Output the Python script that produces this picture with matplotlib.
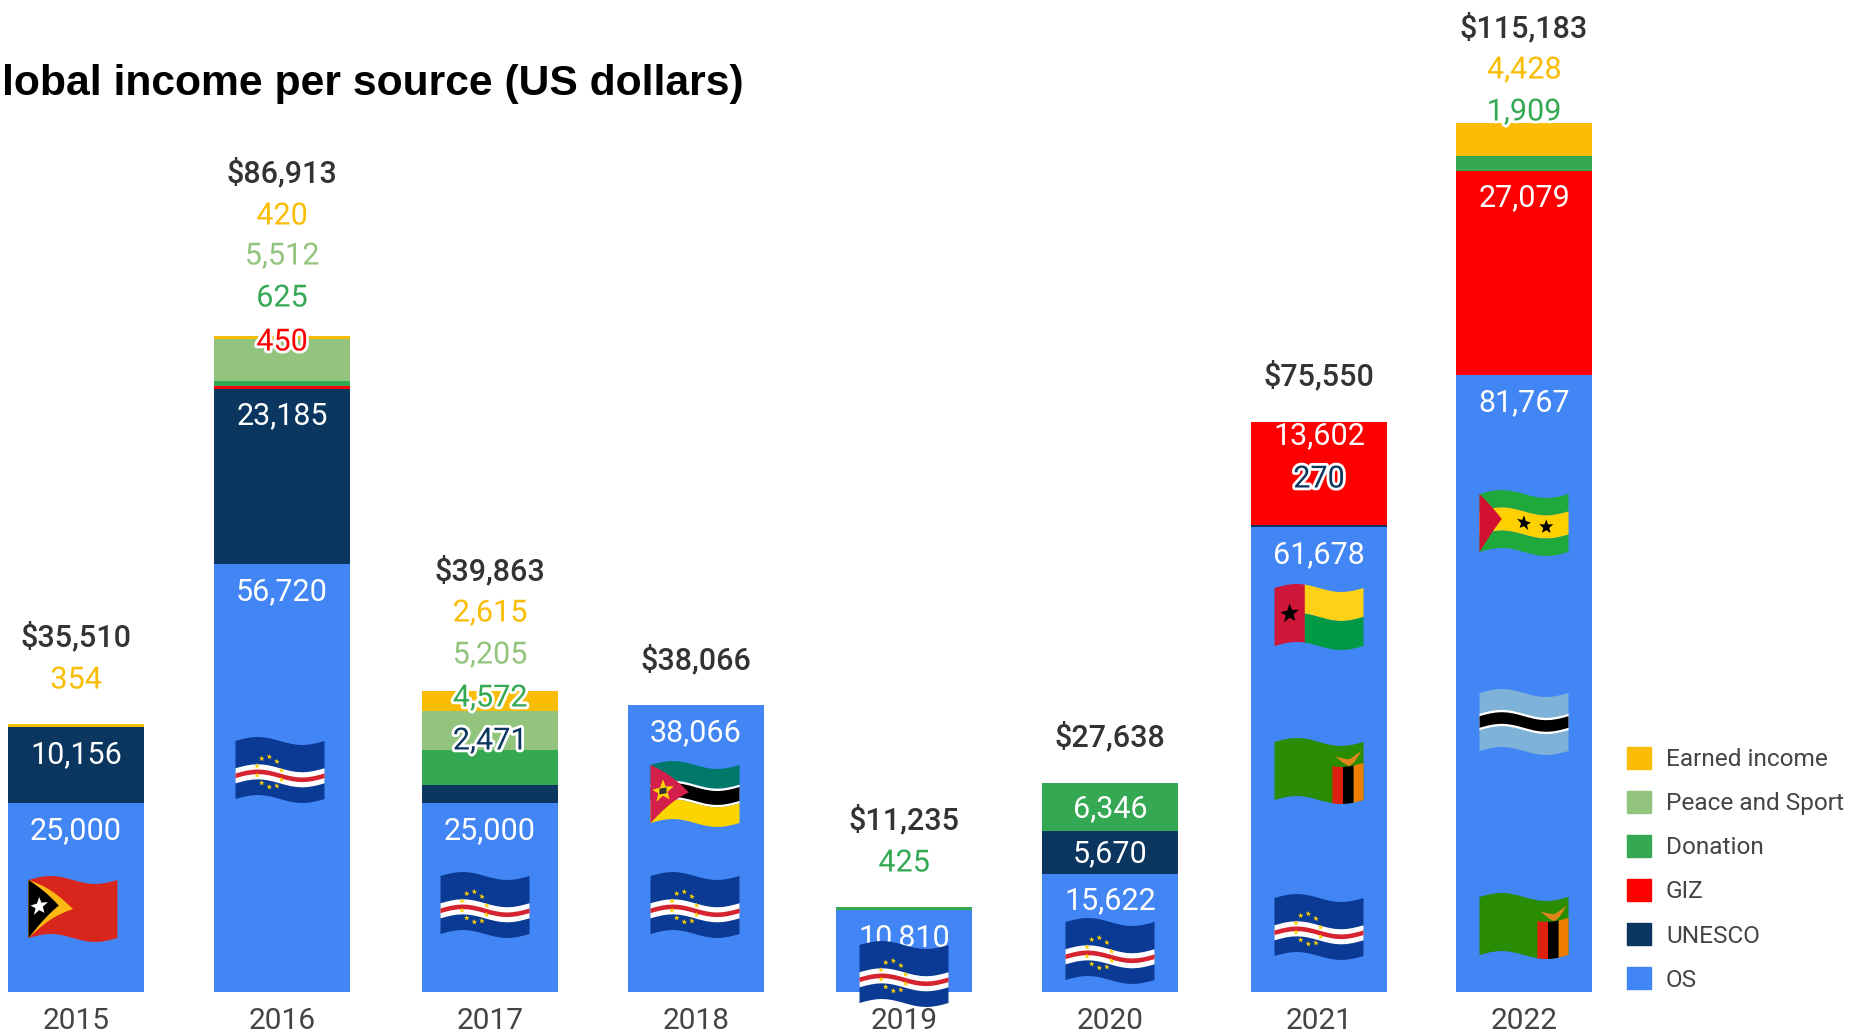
import numpy as np
import matplotlib
matplotlib.use('Agg')
import matplotlib.pyplot as plt
import matplotlib.patheffects as pe
from matplotlib.patches import Patch, Polygon
from matplotlib.transforms import blended_transform_factory

years = ['2015', '2016', '2017', '2018', '2019', '2020', '2021', '2022']
totals = [35510, 86913, 39863, 38066, 11235, 27638, 75550, 115183]

os_income = [25000, 56720, 25000, 38066, 10810, 15622, 61678, 81767]
unesco = [10156, 23185, 2471, 0, 0, 5670, 270, 0]
giz = [0, 450, 0, 0, 0, 0, 13602, 27079]
donation = [0, 625, 4572, 0, 425, 6346, 0, 1909]
peace = [0, 5512, 5205, 0, 0, 0, 0, 0]
earned = [354, 420, 2615, 0, 0, 0, 0, 4428]

series_names = ['OS', 'UNESCO', 'GIZ', 'Donation', 'Peace and Sport', 'Earned income']
series_values = [os_income, unesco, giz, donation, peace, earned]
series_colors = ['#4285F4', '#0A3660', '#FF0000', '#34A853', '#93C47D', '#FBBC04']

# label heights in image pixels, one row per series, same order as above
label_rows = [
    [828, 589, 828, 730, 935, 898, 552, 400],
    [752, 413, 738, 0, 0, 851, 476, 0],
    [0, 339, 0, 0, 0, 0, 433, 195],
    [0, 295, 695, 0, 860, 806, 0, 109],
    [0, 253, 652, 0, 0, 0, 0, 0],
    [677, 213, 610, 0, 0, 0, 0, 67],
]
total_rows = [634, 170, 568, 657, 817, 734, 373, 25]

# flags: (flag name, centre x, centre y in image pixels)
flags = [
    ('timor', 73, 909), ('cabo', 280, 770), ('cabo', 485, 905), ('mozambique', 695, 794),
    ('cabo', 695, 905), ('cabo', 904, 974), ('cabo', 1110, 951), ('bissau', 1319, 617),
    ('zambia', 1319, 771), ('cabo', 1319, 927), ('saotome', 1524, 523), ('botswana', 1524, 722),
    ('zambia', 1524, 926),
]

W, H = 1852, 1035
BASE = 992
PX_PER_USD = 0.007545
X0, STEP = 76, 206.9
bar_px = np.array([76, 282, 490, 696, 904, 1110, 1319, 1524])

plt.rcParams['font.family'] = ['Roboto', 'DejaVu Sans']

fig = plt.figure(figsize=(W / 100, H / 100), dpi=100)
ax = fig.add_axes([0, (H - BASE) / H, 1, BASE / H])
ax.set_xlim(-X0 / STEP, (W - X0) / STEP)
ax.set_ylim(0, BASE / PX_PER_USD)
for s in ax.spines.values():
    s.set_visible(False)
x = (bar_px - X0) / STEP
ax.set_yticks([])
ax.set_xticks(x)
ax.set_xticklabels(years, fontsize=21.5, color='#444444')
ax.tick_params(axis='x', length=0, pad=10.5)

bottom = np.zeros(len(years))
bottoms = []
for vals, col, name in zip(series_values, series_colors, series_names):
    ax.bar(x, vals, 0.657, bottom=bottom, color=col, label=name, linewidth=0)
    bottoms.append(bottom.copy())
    bottom = bottom + np.array(vals)

handles = [Patch(color=c) for c in series_colors[::-1]]
leg = ax.legend(handles, series_names[::-1], loc='lower left', bbox_to_anchor=(1617 / W, -0.0095),
                frameon=False, fontsize=17.6, labelcolor='#444444', handlelength=0.98,
                handleheight=0.98, handletextpad=0.62, labelspacing=0.815, borderpad=0.4,
                borderaxespad=0)

# overlay in image pixels for labels and flags
pix = fig.add_axes([0, 0, 1, 1], zorder=5)
pix.set_xlim(0, W)
pix.set_ylim(H, 0)
pix.axis('off')
trans = blended_transform_factory(ax.transData, pix.transData)

halo = [pe.withStroke(linewidth=4, foreground='white')]
for k, vals in enumerate(series_values):
    for i, v in enumerate(vals):
        if v == 0:
            continue
        py = label_rows[k][i]
        top_px = BASE - (bottoms[k][i] + v) * PX_PER_USD
        bot_px = BASE - bottoms[k][i] * PX_PER_USD
        inside = top_px - 12 <= py <= bot_px
        t = pix.text(x[i], py, f'{v:,}', transform=trans, ha='center', va='center_baseline',
                     fontsize=22, color='white' if inside else series_colors[k], zorder=2)
        if not inside:
            t.set_path_effects(halo)

for i, v in enumerate(totals):
    pix.text(x[i], total_rows[i], f'${v:,}', transform=trans, ha='center', va='center_baseline',
             fontsize=22, color='#333333', fontweight='medium', zorder=2)

fig.text(2 / W, 1 - 84 / H, 'lobal income per source (US dollars)', family='Liberation Sans',
         fontweight='bold', fontsize=30.7, color='black', va='center', ha='left')


def star_points(cu, cv, r, aspect=89 / 57):
    pts = []
    for j in range(10):
        a = np.pi / 2 + j * np.pi / 5
        rr = r if j % 2 == 0 else r * 0.42
        pts.append((cu + rr * np.cos(a) / aspect, cv - rr * np.sin(a)))
    return pts


def flag_shapes(name):
    rect = lambda u0, v0, u1, v1: [(u0, v0), (u1, v0), (u1, v1), (u0, v1)]
    if name == 'cabo':
        shapes = [(rect(0, 0, 1, 1), '#0A3A94'), (rect(0, .47, 1, .73), 'white'), (rect(0, .56, 1, .64), '#D5232F')]
        for a in np.arange(10) * np.pi / 5 + np.pi / 10:
            shapes.append((star_points(.38 + .145 * np.cos(a), .58 + .26 * np.sin(a), .05), '#FFD000'))
        return shapes
    if name == 'timor':
        return [(rect(0, 0, 1, 1), '#D9261C'), ([(0, 0), (.5, .5), (0, 1)], '#FDB913'),
                ([(0, 0), (.34, .5), (0, 1)], 'black'), (star_points(.12, .5, .16), 'white')]
    if name == 'mozambique':
        return [(rect(0, 0, 1, .34), '#00796B'), (rect(0, .34, 1, .66), 'white'), (rect(0, .38, 1, .62), 'black'),
                (rect(0, .66, 1, 1), '#FCD500'), ([(0, 0), (.43, .5), (0, 1)], '#D21F4C'),
                (star_points(.14, .5, .2), '#FCD500'), (rect(.1, .45, .18, .55), '#333333')]
    if name == 'bissau':
        return [(rect(.33, 0, 1, .5), '#FDD116'), (rect(.33, .5, 1, 1), '#009A44'), (rect(0, 0, .34, 1), '#CE1638'),
                (star_points(.17, .5, .17), 'black')]
    if name == 'zambia':
        return [(rect(0, 0, 1, 1), '#2A8C00'), (rect(.65, .36, .77, 1), '#DE2010'), (rect(.77, .36, .89, 1), 'black'),
                (rect(.89, .36, 1, 1), '#EF7D00'), ([(.68, .18), (.84, .24), (.98, .14), (.9, .3), (.84, .36), (.78, .3)], '#E0861A')]
    if name == 'botswana':
        return [(rect(0, 0, 1, 1), '#7EB2D8'), (rect(0, .36, 1, .64), 'white'), (rect(0, .4, 1, .6), 'black')]
    if name == 'saotome':
        return [(rect(0, 0, 1, .3), '#1FA83C'), (rect(0, .3, 1, .7), '#FFD100'), (rect(0, .7, 1, 1), '#1FA83C'),
                ([(0, 0), (.25, .5), (0, 1)], '#D21034'), (star_points(.5, .5, .13), 'black'), (star_points(.75, .5, .13), 'black')]
    return []


def draw_flag(name, cx, cy, fw=89, fh=58, amp=4):
    for pts, col in flag_shapes(name):
        dense = []
        for (u0, v0), (u1, v1) in zip(pts, pts[1:] + pts[:1]):
            for t in np.linspace(0, 1, 16, endpoint=False):
                dense.append((u0 + (u1 - u0) * t, v0 + (v1 - v0) * t))
        dense = np.array(dense)
        px = cx - fw / 2 + dense[:, 0] * fw
        py = cy - fh / 2 + dense[:, 1] * fh - amp * np.sin(2 * np.pi * dense[:, 0])
        pix.add_patch(Polygon(np.column_stack([px, py]), closed=True, facecolor=col, edgecolor='none', zorder=4))


for name, cx, cy in flags:
    draw_flag(name, cx, cy)

fig.savefig('out.png', dpi=100)
